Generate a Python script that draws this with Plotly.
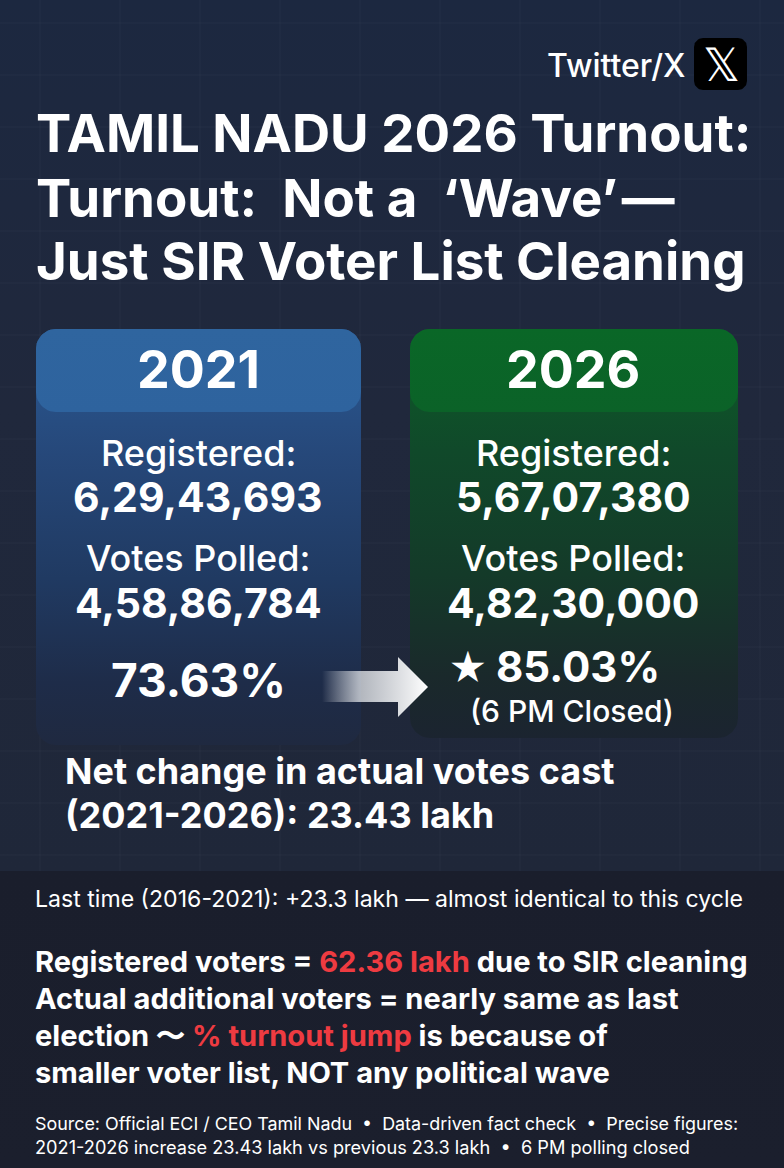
import numpy as np
import plotly.graph_objects as go

W, H = 784, 1168
FONT = "Inter"

# values
years = ["2021", "2026"]
registered = ["6,29,43,693", "5,67,07,380"]
votes_polled = ["4,58,86,784", "4,82,30,000"]
turnout = ["73.63%", "85.03%"]
turnout_note = "(6 PM Closed)"
title_lines = ["TAMIL NADU 2026 Turnout:", "Turnout:  Not a  ‘Wave’\u200a—", "Just SIR Voter List Cleaning"]
net_lines = ["Net change in actual votes cast", "(2021-2026): 23.43 lakh"]
last_time = "Last time (2016-2021): +23.3 lakh — almost identical to this cycle"
RED = "#ee3b41"
body_lines = [
    f'Registered voters = <span style="color:{RED}">62.36 lakh</span> due to SIR cleaning',
    "Actual additional voters = nearly same as last",
    f'election 〜 <span style="color:{RED}">% turnout jump</span> is because of',
    "smaller voter list, NOT any political wave",
]
source_lines = [
    "Source: Official ECI / CEO Tamil Nadu  •  Data-driven fact check  •  Precise figures:",
    "2021-2026 increase 23.43 lakh vs previous 23.3 lakh  •  6 PM polling closed",
]


def round_rect(x0, y0, x1, y1, r):
    # outline of a rounded box, r = (top, bottom) radius
    rt, rb = r
    a = np.linspace(0, np.pi / 2, 12)
    xs = np.concatenate([x0 + rt - rt * np.cos(a), x1 - rt + rt * np.sin(a),
                         x1 - rb + rb * np.cos(a), x0 + rb - rb * np.sin(a)])
    ys = np.concatenate([y0 + rt - rt * np.sin(a), y0 + rt - rt * np.cos(a),
                         y1 - rb + rb * np.sin(a), y1 - rb + rb * np.cos(a)])
    return np.append(xs, xs[0]), np.append(ys, ys[0])


def box(fig, x0, y0, x1, y1, r, colors):
    xs, ys = round_rect(x0, y0, x1, y1, r)
    fig.add_trace(go.Scatter(
        x=xs, y=ys, mode="lines", line=dict(width=0), fill="toself", hoverinfo="skip",
        fillgradient=dict(type="vertical", colorscale=colors, start=y0, stop=y1),
    ))


def label(fig, x, y, text, size, weight=400, anchor="center", color="white"):
    fig.add_annotation(
        x=x, y=y, text=text, showarrow=False, xanchor=anchor, yanchor="middle",
        font=dict(family=FONT, size=size, weight=weight, color=color),
    )


fig = go.Figure()

# page background and grid
box(fig, 0, 0, W, H, (0, 0), [[0, "#1c2840"], [0.35, "#20283c"], [0.75, "#1f2739"], [1, "#1f2739"]])
grid_x, grid_y = [], []
for gx in range(40, W, 80):
    grid_x += [gx, gx, None]
    grid_y += [0, 871, None]
for gy in range(23, 871, 52):
    grid_x += [0, W, None]
    grid_y += [gy, gy, None]
fig.add_trace(go.Scatter(x=grid_x, y=grid_y, mode="lines", hoverinfo="skip",
                         line=dict(color="rgba(255,255,255,0.03)", width=1)))

# lower panel
box(fig, 0, 871, W, H, (0, 0), [[0, "#1a1e2c"], [1, "#1b1f2d"]])

# cards
box(fig, 36, 329, 361, 745, (20, 20),
    [[0, "#2a5a94"], [0.3, "#26487a"], [0.6, "#203a62"], [0.85, "#1e2c49"], [1, "#1f2940"]])
box(fig, 36, 329, 361, 412, (20, 20), [[0, "#2f659f"], [1, "#2e639e"]])
box(fig, 410, 329, 738, 738, (20, 20),
    [[0, "#0d5d28"], [0.3, "#10492a"], [0.6, "#143a29"], [0.85, "#1a292b"], [1, "#1b2430"]])
box(fig, 410, 329, 738, 412, (20, 20), [[0, "#0a6727"], [1, "#0b6228"]])

# arrow
arrow_x = [322, 398, 398, 428, 398, 398, 322, 322]
arrow_y = [671, 671, 657, 687, 717, 702, 702, 671]
fig.add_trace(go.Scatter(
    x=arrow_x, y=arrow_y, mode="lines", line=dict(width=0), fill="toself", hoverinfo="skip",
    fillgradient=dict(type="horizontal", start=322, stop=428, colorscale=[
        [0, "rgba(255,255,255,0)"], [0.35, "rgba(225,228,232,0.75)"], [1, "#ffffff"]]),
))

# X badge
box(fig, 694, 38, 747, 90, (9, 9), [[0, "#000000"], [1, "#000000"]])
label(fig, 721.5, 64, "𝕏", 46, 400)
label(fig, 687, 65, "Twitter/X", 32, 500, "right")

for y, line in zip([133, 198, 261], title_lines):
    label(fig, 34, y, line, 52.8, 700, "left")

for cx, yr, reg, vot in zip([198, 573], years, registered, votes_polled):
    label(fig, cx, 369, yr, 52, 700)
    label(fig, cx, 453, "Registered:", 36, 500)
    label(fig, cx, 497, reg, 41, 700)
    label(fig, cx, 558, "Votes Polled:", 36, 500)
    label(fig, cx, 603, vot, 41, 700)

label(fig, 198, 680, turnout[0], 46, 700)
label(fig, 468, 668, "★", 38, 700)
label(fig, 578, 666, turnout[1], 42, 700)
label(fig, 572, 711, turnout_note, 30, 500)

for y, line in zip([771, 815], net_lines):
    label(fig, 63, y, line, 36, 700, "left")

label(fig, 33, 899, last_time, 23.1, 400, "left")
for y, line in zip([961, 998, 1035, 1072], body_lines):
    label(fig, 33, y, line, 29.1, 700, "left")
for y, line, size in zip([1123, 1147], source_lines, [17.9, 18.2]):
    label(fig, 33, y, line, size, 400, "left")

fig.update_layout(
    width=W, height=H, margin=dict(l=0, r=0, t=0, b=0), showlegend=False,
    paper_bgcolor="#1f2739", plot_bgcolor="#1f2739",
    xaxis=dict(range=[0, W], visible=False, fixedrange=True),
    yaxis=dict(range=[H, 0], visible=False, fixedrange=True),
)
fig.write_html("out.html", config={"displayModeBar": False},
               post_script="document.body.style.margin='0';")
